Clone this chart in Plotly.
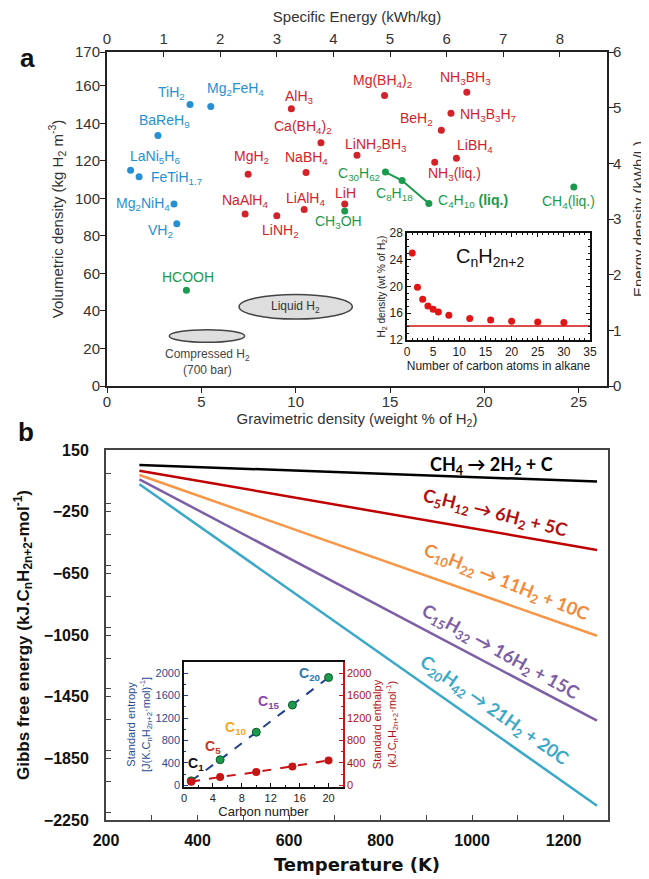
import plotly.graph_objects as go

# page body has an 8px margin; figure size chosen so it fills the 649x879 window
PAD = 8
W, H = 649 - PAD, 879 - PAD

# ---------------- Panel (a) data ----------------
blue_names = ["TiH<sub>2</sub>", "Mg<sub>2</sub>FeH<sub>4</sub>", "BaReH<sub>9</sub>",
              "LaNi<sub>5</sub>H<sub>6</sub>", "FeTiH<sub>1.7</sub>", "Mg<sub>2</sub>NiH<sub>4</sub>",
              "VH<sub>2</sub>"]
blue_grav = [4.4, 5.5, 2.7, 1.25, 1.7, 3.55, 3.7]
blue_vol = [150, 149, 133.5, 115, 111.5, 97, 86.5]

red_names = ["AlH<sub>3</sub>", "Ca(BH<sub>4</sub>)<sub>2</sub>", "MgH<sub>2</sub>", "NaBH<sub>4</sub>",
             "NaAlH<sub>4</sub>", "LiNH<sub>2</sub>", "LiAlH<sub>4</sub>", "Mg(BH<sub>4</sub>)<sub>2</sub>",
             "NH<sub>3</sub>BH<sub>3</sub>", "NH<sub>3</sub>B<sub>3</sub>H<sub>7</sub>", "BeH<sub>2</sub>",
             "LiBH<sub>4</sub>", "LiNH<sub>2</sub>BH<sub>3</sub>", "NH<sub>3</sub>(liq.)", "LiH"]
red_grav = [9.77, 11.34, 7.48, 10.55, 7.32, 9.0, 10.45, 14.71, 19.07, 18.23, 17.72, 18.52, 13.25, 17.37, 12.6]
red_vol = [147.7, 129.6, 112.9, 113.8, 91.7, 90.7, 94.0, 154.8, 156.6, 145.4, 136.3, 121.4, 123.0, 119.3, 97.0]

green_names = ["C<sub>30</sub>H<sub>62</sub>", "C<sub>8</sub>H<sub>18</sub>", "C<sub>4</sub>H<sub>10</sub> <b>(liq.)</b>",
               "CH<sub>4</sub>(liq.)", "CH<sub>3</sub>OH", "HCOOH"]
green_grav = [14.76, 15.64, 17.06, 24.74, 12.6, 4.21]
green_vol = [114.0, 109.5, 97.3, 106.1, 93.3, 51.0]
alkane_chain = ["C<sub>30</sub>H<sub>62</sub>", "C<sub>8</sub>H<sub>18</sub>", "C<sub>4</sub>H<sub>10</sub> <b>(liq.)</b>"]

liquid_h2 = {"grav": (7.0, 13.0), "vol": (35.7, 48.8)}
compressed_h2 = {"grav": (3.3, 7.3), "vol": (23.3, 30.0)}

vol_ticks = [0, 20, 40, 60, 80, 100, 120, 140, 160, 178]
vol_ticktext = ["0", "20", "40", "60", "80", "100", "120", "140", "160", "170"]

# inset (a): H2 content of alkanes
alkane_n = [1, 2, 3, 4, 5, 6, 8, 12, 16, 20, 25, 30]
alkane_wt = [25.0, 19.9, 18.1, 17.1, 16.6, 16.2, 15.7, 15.2, 15.0, 14.8, 14.7, 14.6]
alkane_limit = 14.1

# ---------------- Panel (b) data ----------------
reaction_labels = ["CH<sub>4</sub> → 2H<sub>2</sub> + C",
                   "C<sub>5</sub>H<sub>12</sub> → 6H<sub>2</sub> + 5C",
                   "C<sub>10</sub>H<sub>22</sub> → 11H<sub>2</sub> + 10C",
                   "C<sub>15</sub>H<sub>32</sub> → 16H<sub>2</sub> + 15C",
                   "C<sub>20</sub>H<sub>42</sub> → 21H<sub>2</sub> + 20C"]
temperature = [273, 1273]
dG_start = [53, 16, -12, -40, -72]
dG_end = [-55, -498, -1055, -1606, -2157]

carbon_n = [1, 5, 10, 15, 20]
entropy = [80, 456, 947, 1432, 1923]
enthalpy = [65, 148, 237, 337, 444]
carbon_labels = ["C<sub>1</sub>", "C<sub>5</sub>", "C<sub>10</sub>", "C<sub>15</sub>", "C<sub>20</sub>"]

# ---------------- styles / placement ----------------
BLUE, RED, GREEN = "#2690d2", "#d2232a", "#1a9a4c"
line_colors = ["#000000", "#c00000", "#f79646", "#7d5fa6", "#3ba8c8"]
label_colors = ["#000000", "#b01010", "#f28a3c", "#7d5fa6", "#3ba8c8"]
c_label_colors = ["#111111", "#c0392b", "#f5a623", "#8e44ad", "#2e75b6"]

blue_off = [(-19, 12), (25, 17), (7, 15), (24, 13), (37, -1), (-31, 0), (-16, -7)]
red_off = [(8, 12), (-18, 16), (3, 17), (0, 14), (0, 13), (4, -15), (1, 11), (-2, 15), (-1, 14),
           (37, -2), (-25, 11), (19, 12), (19, 10), (20, -12), (1, 11)]
green_off = [(-26, -2), (-8, -13), (44, 2), (-5, -15), (-6, -11), (2, 13)]

react_pos = [(1043, 50, 0), (1050, -265, 14), (1074, -712, 22), (1062, -1165, 29), (1047, -1541, 35)]
c_label_pos = [(1.6, 385), (4.0, 692), (7.2, 1024), (11.7, 1478), (17.5, 1982)]


def fx(p):
    return (p - PAD) / W


def fy(p):
    return 1 - (p - PAD) / H


FONT = "Liberation Sans, Arial, sans-serif"
AX = "#222222"
TXT = "#333333"

fig = go.Figure()

# panel a points
for names, gx, vy, col in [(blue_names, blue_grav, blue_vol, BLUE),
                           (red_names, red_grav, red_vol, RED)]:
    fig.add_trace(go.Scatter(x=gx, y=vy, mode="markers", marker=dict(color=col, size=7),
                             xaxis="x", yaxis="y", showlegend=False, hoverinfo="skip"))
ix = [green_names.index(n) for n in alkane_chain]
fig.add_trace(go.Scatter(x=[green_grav[i] for i in ix], y=[green_vol[i] for i in ix], mode="lines",
                         line=dict(color=GREEN, width=2), xaxis="x", yaxis="y", showlegend=False))
fig.add_trace(go.Scatter(x=green_grav, y=green_vol, mode="markers", marker=dict(color=GREEN, size=7),
                         xaxis="x", yaxis="y", showlegend=False))
# dummy trace so the secondary axes are drawn
fig.add_trace(go.Scatter(x=[None], y=[None], xaxis="x2", yaxis="y2", showlegend=False))

annotations = []
for names, gx, vy, offs, col in [(blue_names, blue_grav, blue_vol, blue_off, BLUE),
                                 (red_names, red_grav, red_vol, red_off, RED),
                                 (green_names, green_grav, green_vol, green_off, GREEN)]:
    for n, x, y, (dx, dy) in zip(names, gx, vy, offs):
        annotations.append(dict(x=x, y=y, xref="x", yref="y", text=n, showarrow=False,
                                xshift=dx, yshift=dy, font=dict(color=col, size=14, family=FONT)))

shapes = []
for reg in (liquid_h2, compressed_h2):
    shapes.append(dict(type="circle", xref="x", yref="y", x0=reg["grav"][0], x1=reg["grav"][1],
                       y0=reg["vol"][0], y1=reg["vol"][1], fillcolor="#dedede",
                       line=dict(color="#444444", width=1.5), layer="below"))
annotations.append(dict(x=sum(liquid_h2["grav"]) / 2, y=sum(liquid_h2["vol"]) / 2, xref="x", yref="y",
                        text="Liquid H<sub>2</sub>", showarrow=False, font=dict(size=12, color="#333", family=FONT)))
annotations.append(dict(x=sum(compressed_h2["grav"]) / 2, y=compressed_h2["vol"][0], xref="x", yref="y",
                        yanchor="top", yshift=-3,
                        text="Compressed H<sub>2</sub><br>(700 bar)", showarrow=False,
                        font=dict(size=12, color="#444", family=FONT)))
# right-axis title of panel a
annotations.append(dict(x=fx(638), y=fy(219), xref="paper", yref="paper", text="Energy density (kWh/L)",
                        textangle=-90, showarrow=False, xanchor="center", yanchor="middle",
                        font=dict(size=15, color=TXT, family=FONT)))

# inset a
fig.add_trace(go.Scatter(x=[0, 35], y=[alkane_limit, alkane_limit], mode="lines",
                         line=dict(color="#d01010", width=1.5), xaxis="x3", yaxis="y3", showlegend=False))
fig.add_trace(go.Scatter(x=alkane_n, y=alkane_wt, mode="markers", marker=dict(color="#e01515", size=7),
                         xaxis="x3", yaxis="y3", showlegend=False))
annotations.append(dict(x=15.9, y=24.4, xref="x3", yref="y3", text="C<sub>n</sub>H<sub>2n+2</sub>",
                        showarrow=False, font=dict(size=20, color="#111", family=FONT)))

# panel b lines
for i in range(len(reaction_labels)):
    fig.add_trace(go.Scatter(x=temperature, y=[dG_start[i], dG_end[i]], mode="lines",
                             line=dict(color=line_colors[i], width=2.5), xaxis="x4", yaxis="y4",
                             showlegend=False))
    px_, py_, ang = react_pos[i]
    annotations.append(dict(x=px_, y=py_, xref="x4", yref="y4", text="<b>" + reaction_labels[i] + "</b>",
                            showarrow=False, textangle=ang,
                            font=dict(size=18, color=label_colors[i], family="Lato, Open Sans, sans-serif")))

# inset b
fig.add_trace(go.Scatter(x=carbon_n, y=entropy, mode="lines", line=dict(color="#1f3f8f", width=2, dash="dash"),
                         xaxis="x5", yaxis="y5", showlegend=False))
fig.add_trace(go.Scatter(x=carbon_n, y=entropy, mode="markers",
                         marker=dict(color="#1a9a4c", size=8, line=dict(color="#0d5a2c", width=1)),
                         xaxis="x5", yaxis="y5", showlegend=False))
fig.add_trace(go.Scatter(x=carbon_n, y=enthalpy, mode="lines+markers",
                         line=dict(color="#c81414", width=2, dash="dash"),
                         marker=dict(color="#c81414", size=8),
                         xaxis="x5", yaxis="y6", showlegend=False))
for lab, (lx, ly), col in zip(carbon_labels, c_label_pos, c_label_colors):
    annotations.append(dict(x=lx, y=ly, xref="x5", yref="y5", text="<b>" + lab + "</b>", showarrow=False,
                            font=dict(size=14, color=col, family=FONT)))

# panel letters
annotations.append(dict(x=fx(27), y=fy(58), xref="paper", yref="paper", text="<b>a</b>", showarrow=False,
                        xanchor="center", yanchor="middle", font=dict(size=26, color="#111", family=FONT)))
annotations.append(dict(x=fx(26), y=fy(432), xref="paper", yref="paper", text="<b>b</b>", showarrow=False,
                        xanchor="center", yanchor="middle", font=dict(size=26, color="#111", family=FONT)))

common = dict(showgrid=False, zeroline=False, showline=True, linecolor=AX, linewidth=2,
              tickcolor=AX, ticklen=5, tickfont=dict(size=15, color=TXT, family=FONT))

fig.update_layout(
    width=W, height=H, margin=dict(l=0, r=0, t=0, b=0), template="none",
    paper_bgcolor="white", plot_bgcolor="white", font=dict(family=FONT),
    showlegend=False, annotations=annotations, shapes=shapes,
    xaxis=dict(domain=[fx(107), fx(607)], anchor="y", range=[0, 26.5], tickvals=[0, 5, 10, 15, 20, 25],
               ticks="outside", ticklabelstandoff=-4,
               title=dict(text="Gravimetric density (weight % of H<sub>2</sub>)",
                          font=dict(size=15, color=TXT), standoff=2), **common),
    xaxis2=dict(overlaying="x", side="top", anchor="y", range=[0, 26.5 / 3], dtick=1,
                ticks="inside", title=dict(text="Specific Energy (kWh/kg)", font=dict(size=15, color=TXT),
                                           standoff=4), **common),
    yaxis=dict(domain=[fy(386), fy(52)], anchor="x", range=[0, 178], tickvals=vol_ticks,
               ticktext=vol_ticktext, ticks="outside", ticklabelstandoff=-3,
               title=dict(text="Volumetric density (kg H<sub>2</sub> m<sup>-3</sup>)",
                          font=dict(size=15, color=TXT), standoff=8), **common),
    yaxis2=dict(overlaying="y", side="right", anchor="x", range=[0, 6], dtick=1, ticks="outside",
                ticklabelstandoff=-4, **common),
    xaxis3=dict(domain=[fx(407), fx(590)], anchor="y3", range=[0, 35], dtick=5, ticks="inside",
                mirror="allticks", showgrid=False, zeroline=False, showline=True, linecolor="#111",
                linewidth=1.5, ticklen=4, tickcolor="#111",
                minor=dict(ticks="inside", dtick=1, ticklen=2, tickcolor="#111"),
                tickfont=dict(size=12, color="#222"),
                title=dict(text="Number of carbon atoms in alkane", font=dict(size=12, color="#222"), standoff=2)),
    yaxis3=dict(domain=[fy(340), fy(233)], anchor="x3", range=[12, 28], dtick=4, ticks="inside",
                mirror="allticks", showgrid=False, zeroline=False, showline=True, linecolor="#111",
                linewidth=1.5, ticklen=4, tickcolor="#111",
                minor=dict(ticks="inside", dtick=1, ticklen=2, tickcolor="#111"),
                tickfont=dict(size=12, color="#222"),
                title=dict(text="H<sub>2</sub> density (wt % of H<sub>2</sub>)", font=dict(size=10, color="#222"),
                           standoff=2)),
    xaxis4=dict(domain=[fx(106), fx(608)], anchor="y4", range=[200, 1297],
                tickvals=[200, 400, 600, 800, 1000, 1200], ticks="inside", mirror=True,
                minor=dict(ticks="inside", dtick=100, ticklen=5, tickcolor="#444"),
                showgrid=False, zeroline=False, showline=True, linecolor="#444", linewidth=2,
                tickcolor="#444", ticklen=5, ticklabelstandoff=5,
                tickfont=dict(size=16, color="#111", family=FONT, weight="bold"),
                title=dict(text="Temperature (K)", standoff=10,
                           font=dict(size=18, color="#111", family="DejaVu Sans", weight="bold"))),
    yaxis4=dict(domain=[fy(820), fy(450)], anchor="x4", range=[-2250, 150],
                tickvals=[-2250, -1850, -1450, -1050, -650, -250, 150], ticks="inside", mirror=True,
                minor=dict(ticks="inside", dtick=200, ticklen=5, tickcolor="#444"),
                showgrid=False, zeroline=False, showline=True, linecolor="#444", linewidth=2,
                tickcolor="#444", ticklen=5, ticklabelstandoff=12,
                tickfont=dict(size=16, color="#111", family=FONT, weight="bold"),
                title=dict(text="Gibbs free energy (kJ.C<sub>n</sub>H<sub>2n+2</sub>-mol<sup>-1</sup>)",
                           standoff=10, font=dict(size=17, color="#111", family=FONT, weight="bold"))),
    xaxis5=dict(domain=[fx(184), fx(343)], anchor="y5", range=[0, 22], tickvals=[0, 4, 8, 12, 16, 20],
                ticks="inside", mirror=True, showgrid=False, zeroline=False, showline=True,
                linecolor="#111", linewidth=1.5, ticklen=4, tickcolor="#111",
                minor=dict(ticks="inside", dtick=2, ticklen=2, tickcolor="#111"),
                tickfont=dict(size=11, color="#222"),
                title=dict(text="Carbon number", font=dict(size=13, color="#222"), standoff=2)),
    yaxis5=dict(domain=[fy(787), fy(662)], anchor="x5", range=[-30, 2200],
                tickvals=[0, 400, 800, 1200, 1600, 2000], ticks="inside", showgrid=False, zeroline=False,
                showline=True, linecolor="#111", linewidth=1.5, ticklen=4, tickcolor="#1f3f8f",
                minor=dict(ticks="inside", dtick=200, ticklen=2, tickcolor="#1f3f8f"),
                tickfont=dict(size=11, color="#2a4a8f"),
                title=dict(text="Standard entropy<br>[J(K.C<sub>n</sub>H<sub>2n+2</sub>·mol)<sup>-1</sup>]",
                           font=dict(size=11, color="#2a4a8f"), standoff=3)),
    yaxis6=dict(overlaying="y5", side="right", anchor="x5", range=[-30, 2200],
                tickvals=[0, 400, 800, 1200, 1600, 2000], ticks="inside", showgrid=False, zeroline=False,
                showline=True, linecolor="#c81414", linewidth=1.5, ticklen=4, tickcolor="#c81414",
                minor=dict(ticks="inside", dtick=200, ticklen=2, tickcolor="#c81414"),
                tickfont=dict(size=11, color="#b01010"),
                title=dict(text="Standard enthalpy<br>(kJ.C<sub>n</sub>H<sub>2n+2</sub>·mol<sup>-1</sup>)",
                           font=dict(size=11, color="#b01010"), standoff=3)),
)

fig.write_html("out.html")
